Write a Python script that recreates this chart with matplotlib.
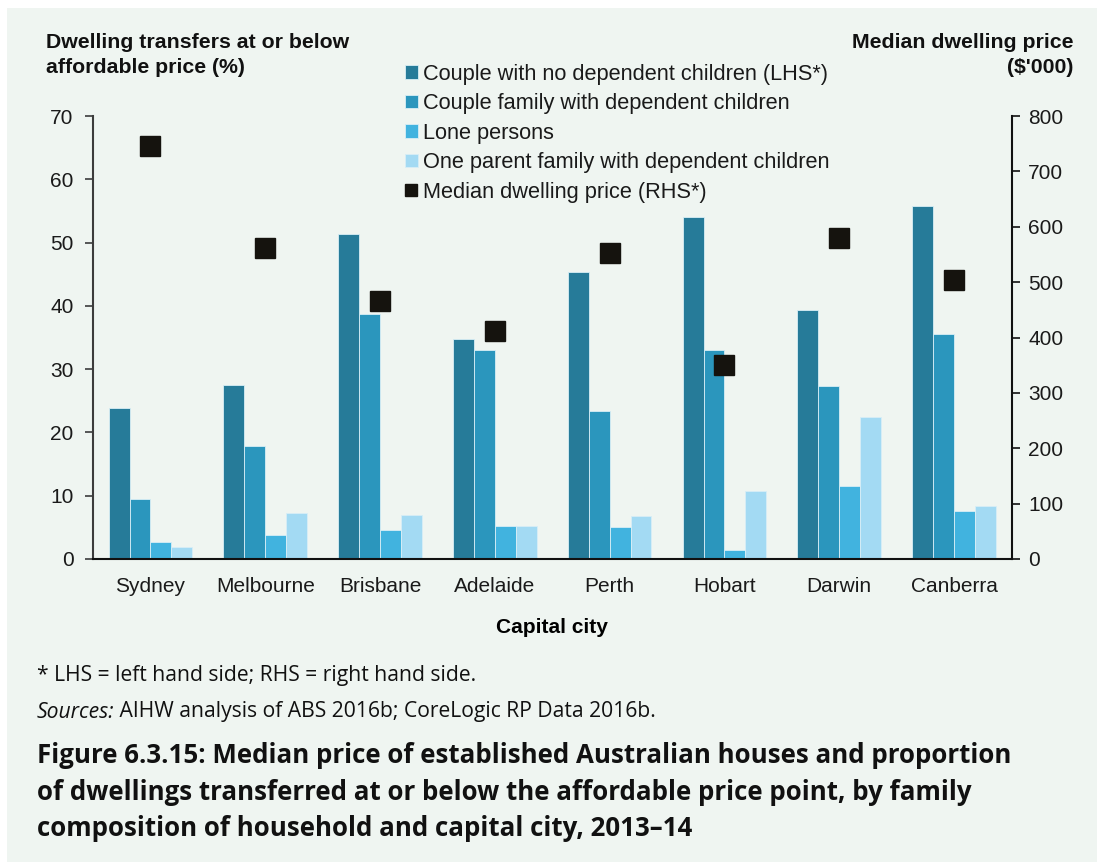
import numpy as np
import matplotlib.pyplot as plt
from matplotlib.patches import Rectangle

plt.rcParams['font.family'] = ['Liberation Sans', 'DejaVu Sans']

# Data
cities = ['Sydney', 'Melbourne', 'Brisbane', 'Adelaide', 'Perth', 'Hobart', 'Darwin', 'Canberra']
couple_no_kids = [23.8, 27.5, 51.3, 34.7, 45.3, 54.1, 39.4, 55.8]
couple_kids = [9.5, 17.8, 38.7, 33.0, 23.4, 33.0, 27.4, 35.5]
lone = [2.7, 3.8, 4.6, 5.2, 5.1, 1.5, 11.6, 7.6]
one_parent = [1.9, 7.2, 6.9, 5.2, 6.8, 10.8, 22.5, 8.3]
median_price = [745, 561, 466, 412, 552, 350, 579, 504]

series = [couple_no_kids, couple_kids, lone, one_parent]
labels = ['Couple with no dependent children (LHS*)',
          'Couple family with dependent children',
          'Lone persons',
          'One parent family with dependent children']
colors = ['#267b99', '#2b96bd', '#41b3df', '#a3daf3']

W, H = 1111, 866
fig = plt.figure(figsize=(W / 100, H / 100), dpi=100)
fig.patch.set_facecolor('white')
fig.add_artist(Rectangle((7 / W, 4 / H), 1090 / W, 854 / H, transform=fig.transFigure,
                         facecolor='#eff5f1', edgecolor='none', zorder=-10))

ax = fig.add_axes([93 / W, (H - 559) / H, (1011.5 - 93) / W, (559 - 116) / H])
ax.set_facecolor('none')
x = np.arange(len(cities))
bw = 0.182
handles = []
for i, (vals, lab, col) in enumerate(zip(series, labels, colors)):
    b = ax.bar(x + (i - 1.5) * bw, vals, bw, color=col, edgecolor='#d8eef6',
               linewidth=0.6, label=lab)
    handles.append(b)

ax.set_xlim(-0.5, 7.5)
ax.set_ylim(0, 70)
ax.set_yticks(range(0, 71, 10))
ax.set_xticks(x)
ax.set_xticklabels(cities, fontsize=15, color='#1a1a1a')
ax.tick_params(axis='x', length=0, pad=13)
ax.tick_params(axis='y', labelsize=15, length=6, width=1.2, color='#3c3c3c', pad=8,
               labelcolor='#1a1a1a')
for s in ['top', 'right']:
    ax.spines[s].set_visible(False)
ax.spines['left'].set_color('#3c3c3c')
ax.spines['left'].set_linewidth(1.5)
ax.spines['bottom'].set_color('#111111')
ax.spines['bottom'].set_linewidth(1.5)
ax.set_xlabel('Capital city', fontsize=15, fontweight='bold', labelpad=16)

ax2 = ax.twinx()
ax2.set_ylim(0, 800)
ax2.set_yticks(range(0, 801, 100))
sq, = ax2.plot(x, median_price, 's', color='#15130e', markersize=14.5, linestyle='none',
               label='Median dwelling price (RHS*)')
for s in ['top', 'left', 'bottom']:
    ax2.spines[s].set_visible(False)
ax2.spines['right'].set_color('#111111')
ax2.spines['right'].set_linewidth(1.5)
ax2.tick_params(axis='y', labelsize=15, length=6, width=1.2, color='#111111', pad=6,
                labelcolor='#1a1a1a')

leg = ax.legend(handles + [sq], labels + ['Median dwelling price (RHS*)'],
                loc='upper left', bbox_to_anchor=(396 / W, (H - 55) / H),
                bbox_transform=fig.transFigure, frameon=False, fontsize=15.7,
                handlelength=0.6, handleheight=0.6, handletextpad=0.25,
                labelspacing=0.39, borderaxespad=0, markerscale=0.62)
for t in leg.get_texts():
    t.set_color('#1a1a1a')

fig.text(46 / W, (H - 55) / H, 'Dwelling transfers at or below\naffordable price (%)',
         fontsize=15.3, fontweight='bold', va='center', ha='left', linespacing=1.45,
         color='#111111')
fig.text(1073 / W, (H - 55) / H, "Median dwelling price\n($'000)",
         fontsize=15.3, fontweight='bold', va='center', ha='right', linespacing=1.45,
         color='#111111')

foot = dict(fontsize=15.2, family=['Open Sans', 'DejaVu Sans'], va='center', color='#111111')
fig.text(37 / W, (H - 675) / H, '* LHS = left hand side; RHS = right hand side.', **foot)
t1 = fig.text(37 / W, (H - 712) / H, 'Sources:', style='italic', **foot)
fig.canvas.draw()
bb = t1.get_window_extent()
fig.text(bb.x1 / W, (H - 712) / H, ' AIHW analysis of ABS 2016b; CoreLogic RP Data 2016b.',
         **foot)

fig.text(37 / W, (H - 792) / H,
         'Figure 6.3.15: Median price of established Australian houses and proportion\n'
         'of dwellings transferred at or below the affordable price point, by family\n'
         'composition of household and capital city, 2013\u201314',
         fontsize=18.6, fontweight='bold', family=['Open Sans', 'DejaVu Sans'],
         va='center', ha='left', linespacing=1.43, color='#111111')

fig.savefig('out.png', dpi=100)
